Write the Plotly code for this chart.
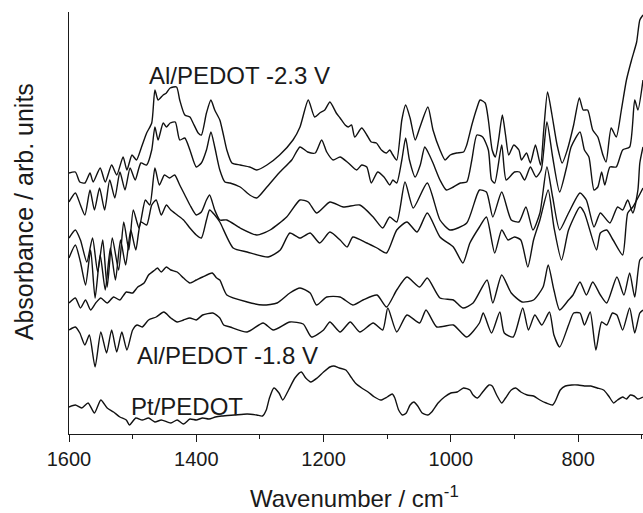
import plotly.graph_objects as go

# ---- data (absorbance, arbitrary units, spectra offset for clarity) ----
wn_c1 = [1600,1590,1583,1575,1567,1562,1551,1543,1533,1525,1515,1509,1501,1494,1486,1478,1470,1465,1460,1452,1447,1441,1431,1426,1418,1410,1405,1397,1392,1384,1377,1371,1363,1358,1352,1344,1331,1316,1305,1289,1269,1248,1237,1224,1214,1206,1198,1190,1180,1174,1166,1161,1156,1151,1140,1132,1125,1117,1109,1101,1096,1091,1085,1077,1071,1064,1056,1049,1036,1028,1017,1009,1001,991,980,975,967,959,954,946,941,935,930,925,919,914,909,901,893,889,881,875,867,859,854,848,841,833,825,817,807,798,792,785,777,769,761,756,748,740,732,724,716,708,703,698]
ab_c1 = [2.61,2.62,2.52,2.51,2.61,2.52,2.66,2.52,2.69,2.59,2.77,2.64,2.79,2.74,2.87,3.01,3.11,3.44,3.34,3.39,3.41,3.46,3.47,3.34,3.19,3.17,3.11,3.01,2.99,3.21,3.34,3.24,3.14,3.01,2.84,2.71,2.69,2.67,2.64,2.69,2.79,2.94,3.07,3.34,3.17,3.21,3.24,3.32,3.21,3.16,3.09,3.07,3.09,2.97,3.06,2.99,2.92,2.91,2.84,2.81,2.84,2.79,2.74,3.14,3.29,3.16,2.94,3.06,3.27,3.04,2.84,2.74,2.79,2.81,2.82,2.89,3.09,3.26,3.34,3.31,3.14,2.84,2.77,2.94,3.19,2.99,2.79,2.89,2.84,2.74,2.81,2.71,2.89,2.69,3.04,3.42,3.19,2.89,2.71,2.84,3.09,3.36,3.24,3.24,3.04,2.97,2.79,2.72,3.06,2.97,3.24,3.54,3.74,3.92,4.14,4.19]

wn_c2 = [1600,1590,1582,1575,1567,1560,1552,1544,1536,1528,1520,1512,1504,1496,1487,1478,1470,1465,1460,1452,1447,1441,1433,1426,1418,1410,1400,1392,1384,1377,1371,1363,1355,1347,1331,1316,1305,1289,1270,1250,1237,1225,1213,1203,1195,1185,1174,1161,1148,1140,1132,1125,1115,1105,1096,1091,1085,1077,1071,1065,1056,1048,1041,1036,1028,1017,1007,996,985,975,967,959,950,941,936,931,920,913,900,892,884,875,866,858,849,840,829,818,811,797,790,783,775,769,763,758,750,740,730,719,711,706,698]
ab_c2 = [2.32,2.41,2.29,2.19,2.44,2.24,2.46,2.24,2.54,2.36,2.62,2.44,2.66,2.54,2.71,2.69,2.84,3.07,2.94,3.11,3.07,3.11,3.12,2.94,2.96,2.84,2.67,2.71,2.84,3.02,2.87,2.64,2.52,2.51,2.47,2.39,2.36,2.47,2.61,2.74,2.87,2.82,2.81,2.94,2.82,2.74,2.77,2.71,2.64,2.69,2.67,2.51,2.62,2.57,2.49,2.54,2.51,2.74,2.96,2.74,2.57,2.69,2.87,2.82,2.71,2.54,2.44,2.47,2.51,2.52,2.74,2.99,2.97,2.84,2.54,2.51,2.89,2.54,2.62,2.62,2.54,2.67,2.57,2.64,3.12,2.77,2.42,2.67,2.87,3.02,2.84,2.77,2.44,2.47,2.62,2.49,2.67,2.67,2.84,2.87,3.34,3.24,3.54]

wn_c3 = [1600,1590,1582,1572,1563,1555,1547,1540,1532,1522,1514,1506,1499,1490,1480,1473,1465,1458,1450,1442,1434,1426,1418,1410,1400,1392,1384,1379,1371,1363,1352,1331,1305,1284,1258,1237,1224,1211,1190,1169,1143,1122,1107,1096,1085,1072,1059,1037,1017,1001,975,955,944,934,920,905,893,882,871,860,849,840,829,815,797,787,775,765,750,738,730,722,714,706,703,698]
ab_c3 = [1.96,2.04,1.94,1.72,1.96,1.62,1.94,1.47,1.96,1.64,2.12,1.84,2.24,2.06,2.34,2.29,2.66,2.49,2.59,2.56,2.59,2.49,2.39,2.29,2.19,2.22,2.34,2.39,2.24,2.14,2.14,2.06,1.99,2.04,2.17,2.34,2.32,2.21,2.32,2.27,2.29,2.17,2.06,2.17,2.12,2.52,2.26,2.51,2.14,2.04,2.11,2.44,2.42,2.17,2.42,2.14,2.12,2.27,2.04,2.21,2.67,2.37,2.04,2.21,2.41,2.34,2.07,2.21,2.11,2.27,2.24,2.34,2.21,2.44,2.71,2.87]

wn_c4 = [1600,1590,1582,1574,1566,1559,1551,1543,1535,1527,1519,1511,1503,1495,1487,1478,1470,1463,1455,1447,1440,1430,1420,1410,1400,1392,1384,1379,1371,1363,1342,1320,1287,1268,1253,1237,1221,1206,1190,1174,1163,1154,1132,1116,1101,1085,1069,1053,1037,1017,996,981,970,955,944,931,920,910,900,890,879,870,860,847,838,826,815,797,790,771,765,755,745,730,722,714,698]
ab_c4 = [1.76,1.89,1.72,1.49,1.84,1.36,1.79,1.44,1.86,1.54,1.94,1.69,2.04,1.84,2.12,2.09,2.29,2.34,2.19,2.29,2.24,2.19,2.14,2.06,1.99,1.96,2.14,2.24,2.19,2.12,1.86,1.82,1.77,1.84,2.01,1.96,2.01,1.91,2.02,1.94,1.87,1.97,1.91,1.86,1.81,2.04,2.12,2.02,2.21,1.97,1.87,1.71,1.91,2.07,2.17,1.81,2.04,1.94,1.97,1.94,1.67,1.94,2.14,2.44,2.07,1.74,2.04,2.27,2.21,1.84,2.01,2.04,1.94,1.79,2.21,2.27,2.46]

wn_c5 = [1600,1590,1582,1574,1566,1558,1550,1540,1530,1520,1510,1500,1492,1482,1475,1465,1461,1455,1447,1440,1430,1420,1410,1400,1390,1375,1368,1363,1352,1320,1295,1273,1253,1237,1221,1211,1195,1174,1154,1138,1116,1101,1085,1069,1049,1037,1017,996,981,965,943,934,920,905,888,870,855,847,838,829,815,808,797,787,777,765,755,739,728,719,711,703,698]
ab_c5 = [1.31,1.36,1.26,1.34,1.24,1.31,1.36,1.31,1.37,1.34,1.42,1.41,1.47,1.51,1.59,1.64,1.66,1.62,1.67,1.64,1.62,1.56,1.51,1.54,1.57,1.61,1.56,1.54,1.39,1.32,1.29,1.31,1.41,1.46,1.41,1.29,1.37,1.37,1.29,1.34,1.39,1.27,1.44,1.57,1.47,1.56,1.36,1.34,1.26,1.31,1.54,1.31,1.59,1.41,1.32,1.34,1.47,1.69,1.44,1.24,1.34,1.39,1.52,1.39,1.52,1.39,1.31,1.57,1.39,1.61,1.37,1.74,1.77]

wn_c6 = [1600,1590,1583,1575,1568,1559,1550,1541,1533,1525,1517,1509,1500,1493,1485,1475,1463,1451,1440,1430,1420,1410,1400,1390,1374,1363,1357,1347,1320,1295,1279,1253,1232,1219,1200,1190,1174,1158,1143,1122,1107,1099,1085,1069,1049,1039,1022,996,975,955,949,936,923,916,902,887,878,868,857,845,838,829,815,807,797,790,781,772,763,755,746,739,730,719,711,703,698]
ab_c6 = [1.04,1.07,1.01,0.89,0.99,0.67,1.02,0.81,1.04,0.82,1.02,0.84,1.04,1.09,1.07,1.14,1.17,1.22,1.16,1.12,1.14,1.16,1.14,1.19,1.21,1.16,1.09,1.07,1.02,1.11,1.04,1.12,1.10,0.97,1.04,1.12,1.02,1.12,1.02,1.11,1.04,1.26,1.02,1.19,1.11,1.24,1.07,1.09,0.97,1.11,1.21,1.01,1.22,1.01,0.97,1.26,1.04,1.19,1.09,1.22,0.99,0.87,1.09,1.21,1.21,1.09,1.22,0.84,1.12,1.09,1.21,1.19,1.04,1.26,1.01,1.21,1.24]

wn_pt = [1600,1590,1580,1570,1560,1550,1540,1530,1520,1510,1505,1495,1485,1475,1465,1455,1440,1430,1420,1410,1400,1390,1380,1370,1360,1340,1320,1305,1296,1290,1285,1278,1270,1264,1255,1245,1235,1228,1220,1210,1200,1190,1184,1175,1165,1158,1150,1140,1130,1120,1110,1100,1092,1088,1082,1076,1070,1064,1058,1052,1045,1036,1030,1020,1010,1000,990,980,970,965,958,950,940,935,928,920,914,905,898,890,880,870,860,850,840,835,828,820,810,800,790,780,770,760,752,744,738,730,724,718,712,706,698]
ab_pt = [0.27,0.29,0.26,0.31,0.21,0.34,0.26,0.22,0.17,0.14,0.09,0.16,0.14,0.16,0.12,0.14,0.11,0.14,0.10,0.15,0.14,0.16,0.15,0.17,0.18,0.19,0.20,0.19,0.18,0.24,0.36,0.46,0.41,0.34,0.44,0.56,0.62,0.56,0.52,0.56,0.62,0.67,0.68,0.66,0.64,0.58,0.51,0.46,0.42,0.37,0.34,0.37,0.40,0.36,0.24,0.19,0.21,0.29,0.32,0.28,0.21,0.19,0.22,0.31,0.37,0.41,0.42,0.46,0.44,0.39,0.36,0.42,0.49,0.48,0.39,0.31,0.36,0.44,0.46,0.42,0.39,0.38,0.34,0.31,0.29,0.34,0.44,0.48,0.49,0.49,0.48,0.48,0.46,0.44,0.38,0.31,0.34,0.37,0.35,0.39,0.38,0.35,0.37]

series = [
    (wn_c1, ab_c1), (wn_c2, ab_c2), (wn_c3, ab_c3),
    (wn_c4, ab_c4), (wn_c5, ab_c5), (wn_c6, ab_c6), (wn_pt, ab_pt),
]

labels = ["Al/PEDOT -2.3 V", "Al/PEDOT -1.8 V", "Pt/PEDOT"]

FONT = "Arial, Liberation Sans, Helvetica, sans-serif"

fig = go.Figure()
for wn, ab in series:
    fig.add_trace(go.Scatter(x=wn, y=ab, mode="lines",
                             line=dict(color="#111111", width=1.4,
                                       shape="spline", smoothing=0.6),
                             showlegend=False, hoverinfo="skip"))

fig.update_layout(
    width=643, height=513,
    margin=dict(l=69, r=0, t=12, b=79),
    paper_bgcolor="white", plot_bgcolor="white",
    font=dict(family=FONT, color="#1a1a1a"),
    xaxis=dict(
        range=[1600, 698], showgrid=False, zeroline=False,
        showline=True, linecolor="#1a1a1a", linewidth=1.3,
        ticks="outside", ticklen=7, tickwidth=1.3, tickcolor="#1a1a1a",
        tick0=0, dtick=200, tickfont=dict(size=20, family=FONT),
        minor=dict(ticks="outside", ticklen=4, tickwidth=1.3,
                   tickcolor="#1a1a1a", dtick=100, tick0=0, showgrid=False),
    ),
    yaxis=dict(
        range=[0, 4.22], showgrid=False, zeroline=False,
        showline=True, linecolor="#1a1a1a", linewidth=1.3,
        showticklabels=False, ticks="",
    ),
)

# axis titles
fig.add_annotation(text="Wavenumber / cm<sup>-1</sup>", xref="paper", yref="paper",
                   x=0.498, y=-0.15, xanchor="center", yanchor="middle",
                   showarrow=False, font=dict(size=24, family=FONT))
fig.add_annotation(text="Absorbance / arb. units", xref="paper", yref="paper",
                   x=-0.078, y=0.526, xanchor="center", yanchor="middle",
                   textangle=-90, showarrow=False, font=dict(size=25, family=FONT))

# curve labels
label_pos = [(1478, 3.59), (1497, 0.79), (1505, 0.28)]
for txt, (lx, ly) in zip(labels, label_pos):
    fig.add_annotation(text=txt, x=lx, y=ly, xanchor="left", yanchor="middle",
                       showarrow=False, font=dict(size=24, family=FONT))

fig.write_html("out.html")
